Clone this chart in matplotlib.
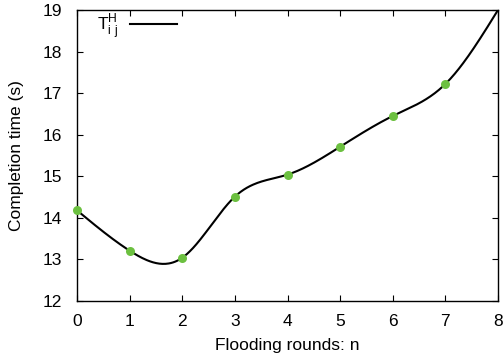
import numpy as np
import matplotlib
matplotlib.use("Agg")
import matplotlib.pyplot as plt

rounds = [0, 1, 2, 3, 4, 5, 6, 7]
times = [14.18, 13.21, 13.04, 14.51, 15.04, 15.71, 16.45, 17.22]
curve_rounds = [0, 1, 2, 3, 4, 5, 6, 7, 8]
curve_times = [14.18, 13.21, 13.04, 14.51, 15.04, 15.71, 16.45, 17.22, 19.0]
xticks = [0, 1, 2, 3, 4, 5, 6, 7, 8]
yticks = [12, 13, 14, 15, 16, 17, 18, 19]


def natural_spline(x, y, n=400):
    x = np.asarray(x, float); y = np.asarray(y, float)
    m = len(x); h = np.diff(x)
    A = np.zeros((m, m)); b = np.zeros(m)
    A[0, 0] = A[-1, -1] = 1
    for i in range(1, m - 1):
        A[i, i - 1] = h[i - 1]; A[i, i] = 2 * (h[i - 1] + h[i]); A[i, i + 1] = h[i]
        b[i] = 3 * ((y[i + 1] - y[i]) / h[i] - (y[i] - y[i - 1]) / h[i - 1])
    c = np.linalg.solve(A, b)
    xs = np.linspace(x[0], x[-1], n); ys = np.empty_like(xs)
    for k, xv in enumerate(xs):
        i = min(np.searchsorted(x, xv, side='right') - 1, m - 2)
        d = xv - x[i]
        bb = (y[i + 1] - y[i]) / h[i] - h[i] * (2 * c[i] + c[i + 1]) / 3
        dd = (c[i + 1] - c[i]) / (3 * h[i])
        ys[k] = y[i] + bb * d + c[i] * d ** 2 + dd * d ** 3
    return xs, ys


plt.rcParams['font.family'] = ['Liberation Sans', 'DejaVu Sans']
plt.rcParams['mathtext.fontset'] = 'custom'
plt.rcParams['mathtext.rm'] = 'Liberation Sans'
fig = plt.figure(figsize=(5.04, 3.62), dpi=100)
ax = fig.add_axes([77 / 504, 1 - 301 / 362, (498 - 77) / 504, (301 - 10) / 362])

xs, ys = natural_spline(curve_rounds, curve_times)
ax.plot(xs, ys, color='black', lw=1.5, label=r'T$_{\mathrm{i\ j}}^{\mathrm{H}}$', zorder=2)
ax.plot(rounds, times, 'o', color='#6cc040', ms=6.5, mec='none', zorder=3, clip_on=False)

ax.set_xlim(0, 8)
ax.set_ylim(12, 19)
ax.set_xticks(xticks)
ax.set_yticks(yticks)
ax.tick_params(direction='in', top=True, right=True, labelsize=12.5, length=4, width=0.8)
ax.tick_params(axis='x', pad=9)
ax.tick_params(axis='y', pad=11)
for s in ax.spines.values():
    s.set_linewidth(1.0)
ax.set_xlabel('Flooding rounds: n', fontsize=12.5, labelpad=7)
ax.set_ylabel('Completion time (s)', fontsize=12.5, labelpad=13)
leg = ax.legend(loc='upper left', frameon=False, fontsize=12.5, handlelength=2.7,
                borderaxespad=0.0, handletextpad=0.7, markerfirst=False,
                bbox_to_anchor=(0.03, 1.02))
fig.savefig('out.png', dpi=100)
